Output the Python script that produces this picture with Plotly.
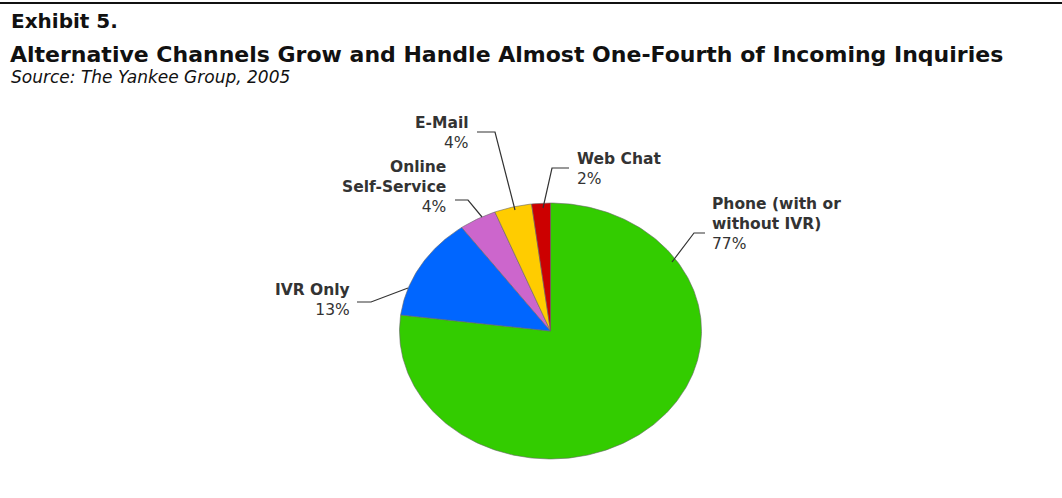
import numpy as np
import plotly.graph_objects as go

# ---- data ----
channels = ["Phone (with or without IVR)", "IVR Only", "Online Self-Service", "E-Mail", "Web Chat"]
shares = [77, 13, 4, 4, 2]
colors = ["#33CC00", "#0066FF", "#CC66CC", "#FFCC00", "#CC0000"]
label_texts = ["<b>Phone (with or<br>without IVR)</b><br>77%",
               "<b>IVR Only</b><br>13%",
               "<b>Online<br>Self-Service</b><br>4%",
               "<b>E-Mail</b><br>4%",
               "<b>Web Chat</b><br>2%"]

W, H = 1062, 498
CX, CY = 550.5, 331.0     # pie centre (px)
RX, RY = 151.0, 128.0     # ellipse radii (px)

def X(px):
    return (px - CX) / RX

def Y(py):
    return (CY - py) / RY

fig = go.Figure()

total = sum(shares)
start = 0.0
for name, v, c in zip(channels, shares, colors):
    frac0 = start / total
    frac1 = (start + v) / total
    t = np.linspace(frac0, frac1, max(int(v * 4), 8))
    ang = np.pi / 2 - 2 * np.pi * t  # clockwise from 12 o'clock
    xs = np.concatenate([[0], np.cos(ang), [0]])
    ys = np.concatenate([[0], np.sin(ang), [0]])
    fig.add_trace(go.Scatter(x=xs, y=ys, mode="lines", fill="toself",
                             fillcolor=c, line=dict(color="#666666", width=0.6),
                             name=name, hoverinfo="name", showlegend=False))
    start += v

# leader lines (pixel waypoints) and label anchors
leaders = [
    ([(705, 233), (694, 233), (672, 262)], (710, 224, "left")),
    ([(357, 302), (371, 302), (408, 288)], (352, 300, "right")),
    ([(455, 200), (468, 200), (482, 217)], (448, 187, "right")),
    ([(477, 132), (495, 132), (515, 210)], (471, 133, "right")),
    ([(569, 168), (552, 168), (543, 208)], (575, 169, "left")),
]
for (pts, (lx, ly, al)), txt in zip(leaders, label_texts):
    fig.add_trace(go.Scatter(x=[X(p[0]) for p in pts], y=[Y(p[1]) for p in pts],
                             mode="lines", line=dict(color="#333333", width=1.2),
                             hoverinfo="skip", showlegend=False))
    fig.add_annotation(x=X(lx), y=Y(ly), xref="x", yref="y", text=txt,
                       showarrow=False, xanchor=al, yanchor="middle", align=al,
                       font=dict(family="DejaVu Sans", size=15.5, color="#333333"))

# titles
def py2paper(py):
    return 1 - py / H

fig.add_annotation(x=9 / W, y=py2paper(21), xref="paper", yref="paper",
                   text="<b>Exhibit 5.</b>", showarrow=False, xanchor="left", yanchor="middle",
                   font=dict(family="DejaVu Sans", size=20, color="#111111"))
fig.add_annotation(x=8 / W, y=py2paper(54), xref="paper", yref="paper",
                   text="<b>Alternative Channels Grow and Handle Almost One-Fourth of Incoming Inquiries</b>",
                   showarrow=False, xanchor="left", yanchor="middle",
                   font=dict(family="DejaVu Sans", size=22, color="#111111"))
fig.add_annotation(x=9 / W, y=py2paper(77), xref="paper", yref="paper",
                   text="<i>Source: The Yankee Group, 2005</i>", showarrow=False,
                   xanchor="left", yanchor="middle",
                   font=dict(family="DejaVu Sans", size=17, color="#111111"))

fig.add_shape(type="line", xref="paper", yref="paper", x0=0, x1=1,
              y0=py2paper(3), y1=py2paper(3), line=dict(color="#111111", width=2))

fig.update_xaxes(range=[X(0), X(W)], visible=False, fixedrange=True)
fig.update_yaxes(range=[Y(H), Y(0)], visible=False, fixedrange=True)
fig.update_layout(width=W, height=H, margin=dict(l=0, r=0, t=0, b=0),
                  paper_bgcolor="white", plot_bgcolor="white", showlegend=False)

fig.write_html("out.html")
